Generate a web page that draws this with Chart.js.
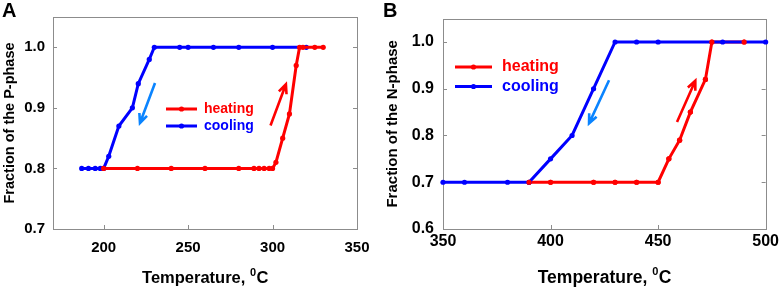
<!DOCTYPE html>
<html>
<head>
<meta charset="utf-8">
<script src="https://cdn.jsdelivr.net/npm/chart.js@4.4.1/dist/chart.umd.min.js"></script>
<style>
  html, body { margin: 0; padding: 0; background: #fff; }
  #wrap { position: relative; width: 782px; height: 288px; overflow: hidden; }
  #chartA { position: absolute; left: 0; top: 0; }
  #chartB { position: absolute; left: 380px; top: 0; }
</style>
</head>
<body>
<div id="wrap">
  <canvas id="chartA" width="380" height="288"></canvas>
  <canvas id="chartB" width="402" height="288"></canvas>
</div>
<script>
// Panel A - P-phase
const heatTempA = [200, 220, 240, 260, 280, 289, 292, 295, 298, 300, 302, 306, 310, 314, 316, 318, 325, 330];
const heatFracA = [0.80, 0.80, 0.80, 0.80, 0.80, 0.80, 0.80, 0.80, 0.80, 0.80, 0.81, 0.85, 0.89, 0.97, 1.00, 1.00, 1.00, 1.00];
const coolTempA = [187, 191, 195, 198, 200, 203, 209, 217, 220.5, 227, 230, 245, 250, 265, 280, 300, 320];
const coolFracA = [0.80, 0.80, 0.80, 0.80, 0.80, 0.82, 0.87, 0.90, 0.94, 0.98, 1.00, 1.00, 1.00, 1.00, 1.00, 1.00, 1.00];
const xTicksA = [200, 250, 300, 350];
const yTicksA = [0.7, 0.8, 0.9, 1.0];

// Panel B - N-phase
const heatTempB = [390, 400, 420, 430, 440, 450, 455, 460, 465, 472, 475, 490];
const heatFracB = [0.70, 0.70, 0.70, 0.70, 0.70, 0.70, 0.75, 0.79, 0.85, 0.92, 1.00, 1.00];
const coolTempB = [350, 360, 380, 390, 400, 410, 420, 430, 440, 450, 480, 500];
const coolFracB = [0.70, 0.70, 0.70, 0.70, 0.75, 0.80, 0.90, 1.00, 1.00, 1.00, 1.00, 1.00];
const xTicksB = [350, 400, 450, 500];
const yTicksB = [0.6, 0.7, 0.8, 0.9, 1.0];

// arrows: [x0, y0, x1, y1] in data units, head at the second point
const arrowCoolA = [230.4, 0.941, 221.5, 0.875];
const arrowHeatA = [298.8, 0.871, 307.9, 0.939];
const arrowCoolB = [427.2, 0.918, 417.9, 0.826];
const arrowHeatB = [458.8, 0.829, 467.3, 0.917];

const RED = '#ff0000';
const BLUE = '#0000ff';
const ARROW_BLUE = '#0a84ff';
const FRAME = '#8c8c8c';
const FONT = '"Liberation Sans", Arial, sans-serif';

const toPoints = (xs, ys) => xs.map((x, i) => ({ x: x, y: ys[i] }));

const lineSet = (label, xs, ys, color, showLine = true) => ({
    label: label,
    data: toPoints(xs, ys),
    borderColor: color,
    backgroundColor: color,
    borderWidth: 3,
    pointRadius: 2.6,
    pointBorderWidth: 0,
    pointBackgroundColor: color,
    showLine: showLine,
    tension: 0,
    clip: 6
});

// frame box + inward tick marks
const framePlugin = {
    id: 'frame',
    beforeDatasetsDraw(chart) {
        const { ctx, chartArea: a, scales } = chart;
        ctx.save();
        ctx.strokeStyle = FRAME;
        ctx.lineWidth = 1;
        ctx.strokeRect(Math.round(a.left) + 0.5, Math.round(a.top) + 0.5, Math.round(a.width), Math.round(a.height));
        ctx.beginPath();
        scales.x.ticks.forEach(t => {
            const px = Math.round(scales.x.getPixelForValue(t.value)) + 0.5;
            ctx.moveTo(px, a.bottom);
            ctx.lineTo(px, a.bottom - 4);
        });
        scales.y.ticks.forEach(t => {
            const py = Math.round(scales.y.getPixelForValue(t.value)) + 0.5;
            ctx.moveTo(a.left, py);
            ctx.lineTo(a.left + 4, py);
            ctx.moveTo(a.right, py);
            ctx.lineTo(a.right - 4, py);
        });
        ctx.stroke();
        ctx.restore();
    }
};

// arrows, legend, x title, panel letter
const decorPlugin = {
    id: 'decor',
    afterDatasetsDraw(chart, args, opts) {
        const { ctx, scales: { x, y } } = chart;
        ctx.save();
        opts.arrows.forEach(ar => {
            const [d, color] = ar;
            const x0 = x.getPixelForValue(d[0]), y0 = y.getPixelForValue(d[1]);
            const x1 = x.getPixelForValue(d[2]), y1 = y.getPixelForValue(d[3]);
            const ang = Math.atan2(y1 - y0, x1 - x0);
            const head = 10;
            ctx.strokeStyle = color;
            ctx.lineWidth = 2.6;
            ctx.lineCap = 'butt';
            ctx.beginPath();
            ctx.moveTo(x0, y0);
            ctx.lineTo(x1, y1);
            ctx.moveTo(x1 - head * Math.cos(ang - 0.42), y1 - head * Math.sin(ang - 0.42));
            ctx.lineTo(x1, y1);
            ctx.lineTo(x1 - head * Math.cos(ang + 0.42), y1 - head * Math.sin(ang + 0.42));
            ctx.stroke();
        });

        const lg = opts.legend;
        lg.items.forEach((it, i) => {
            const ly = lg.y + i * lg.gap;
            ctx.strokeStyle = it.color;
            ctx.fillStyle = it.color;
            ctx.lineWidth = 3;
            ctx.beginPath();
            ctx.moveTo(lg.x0, ly);
            ctx.lineTo(lg.x1, ly);
            ctx.stroke();
            ctx.beginPath();
            ctx.arc((lg.x0 + lg.x1) / 2, ly, 2.6, 0, Math.PI * 2);
            ctx.fill();
            ctx.font = `bold ${lg.size}px ${FONT}`;
            ctx.textBaseline = 'middle';
            ctx.textAlign = 'left';
            ctx.fillText(it.text, lg.tx, ly);
        });
        ctx.restore();
    },
    afterDraw(chart, args, opts) {
        const { ctx, chartArea: a } = chart;
        ctx.save();
        ctx.fillStyle = '#000';
        ctx.textBaseline = 'alphabetic';
        ctx.textAlign = 'left';
        // x axis title with superscript 0
        const size = opts.titleSize;
        const big = `bold ${size}px ${FONT}`;
        const small = `bold ${Math.round(size * 0.65)}px ${FONT}`;
        ctx.font = big;
        const w1 = ctx.measureText('Temperature, ').width;
        const w3 = ctx.measureText('C').width;
        ctx.font = small;
        const w2 = ctx.measureText('0').width;
        let tx = (a.left + a.right) / 2 - (w1 + w2 + w3) / 2;
        const base = 283;
        ctx.font = big;
        ctx.fillText('Temperature, ', tx, base);
        ctx.font = small;
        ctx.fillText('0', tx + w1, base - size * 0.45);
        ctx.font = big;
        ctx.fillText('C', tx + w1 + w2 + 0.5, base);
        // panel letter
        ctx.font = `bold 20px ${FONT}`;
        ctx.fillText(opts.letter, opts.letterX, 17);
        ctx.restore();
    }
};

const makeOptions = (cfg) => ({
    responsive: false,
    animation: false,
    devicePixelRatio: 1,
    layout: { padding: cfg.padding },
    plugins: {
        legend: { display: false },
        tooltip: { enabled: false },
        decor: cfg.decor
    },
    scales: {
        x: {
            type: 'linear',
            min: cfg.xMin,
            max: cfg.xMax,
            afterBuildTicks: (s) => { s.ticks = cfg.xTicks.map(v => ({ value: v })); },
            afterFit: (s) => { s.height = 59; },
            grid: { display: false, drawTicks: false },
            border: { display: false },
            ticks: {
                color: '#000',
                padding: cfg.xPad,
                maxRotation: 0,
                font: { family: FONT, size: cfg.font, weight: 'bold' }
            }
        },
        y: {
            type: 'linear',
            min: cfg.yMin,
            max: cfg.yMax,
            afterBuildTicks: (s) => { s.ticks = cfg.yTicks.map(v => ({ value: v })); },
            afterFit: (s) => { s.width = cfg.yWidth; },
            grid: { display: false, drawTicks: false },
            border: { display: false },
            ticks: {
                color: '#000',
                padding: cfg.yPad,
                callback: (v) => Number(v).toFixed(1),
                font: { family: FONT, size: cfg.font, weight: 'bold' }
            },
            title: {
                display: true,
                text: cfg.yTitle,
                color: '#000',
                padding: { top: cfg.titlePad, bottom: 0 },
                font: { family: FONT, size: cfg.yTitleSize, weight: 'bold' }
            }
        }
    }
});

new Chart(document.getElementById('chartA'), {
    type: 'line',
    data: {
        datasets: [
            lineSet('heating', heatTempA, heatFracA, RED),
            lineSet('cooling', coolTempA, coolFracA, BLUE)
        ]
    },
    options: makeOptions({
        padding: { left: 0, top: 13, right: 23, bottom: 0 },
        xMin: 170, xMax: 350, xTicks: xTicksA,
        yMin: 0.7, yMax: 1.05, yTicks: yTicksA,
        yWidth: 53, yPad: 8, xPad: 10, font: 15, titlePad: 1, yTitleSize: 14.5,
        yTitle: 'Fraction of the P-phase',
        decor: {
            arrows: [[arrowCoolA, ARROW_BLUE], [arrowHeatA, RED]],
            legend: {
                x0: 166, x1: 197, tx: 204, y: 109, gap: 17, size: 14,
                items: [{ text: 'heating', color: RED }, { text: 'cooling', color: BLUE }]
            },
            titleSize: 16.5,
            letter: 'A', letterX: 2
        }
    }),
    plugins: [framePlugin, decorPlugin]
});

new Chart(document.getElementById('chartB'), {
    type: 'line',
    data: {
        datasets: [
            lineSet('heating points', heatTempB, heatFracB, RED, false),
            lineSet('cooling', coolTempB, coolFracB, BLUE),
            lineSet('heating', heatTempB, heatFracB, RED)
        ]
    },
    options: makeOptions({
        padding: { left: 0, top: 14, right: 15, bottom: 0 },
        xMin: 350, xMax: 500, xTicks: xTicksB,
        yMin: 0.6, yMax: 1.05, yTicks: yTicksB,
        yWidth: 63, yPad: 9, xPad: 3, font: 16, titlePad: 4, yTitleSize: 15,
        yTitle: 'Fraction of the N-phase',
        decor: {
            arrows: [[arrowCoolB, ARROW_BLUE], [arrowHeatB, RED]],
            legend: {
                x0: 75, x1: 112, tx: 122, y: 67, gap: 19.5, size: 16,
                items: [{ text: 'heating', color: RED }, { text: 'cooling', color: BLUE }]
            },
            titleSize: 17.5,
            letter: 'B', letterX: 3
        }
    }),
    plugins: [framePlugin, decorPlugin]
});
</script>
</body>
</html>
